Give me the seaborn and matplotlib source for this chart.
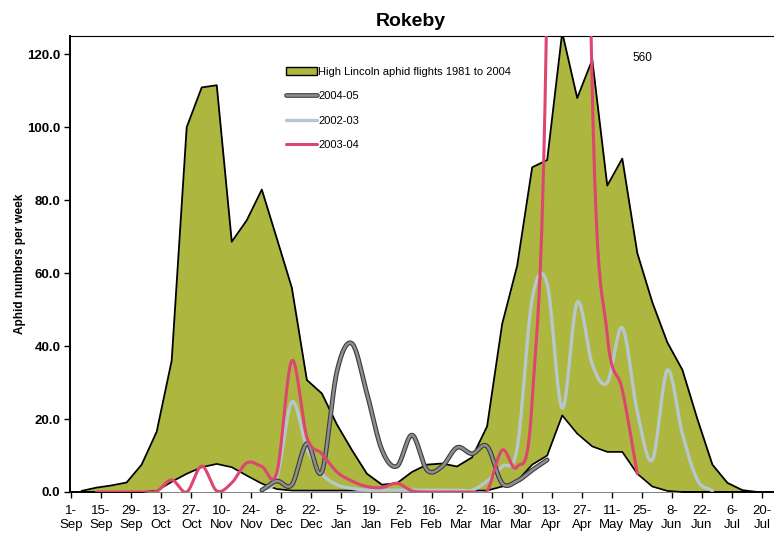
import numpy as np
import pandas as pd
import matplotlib
matplotlib.use("Agg")
import matplotlib.pyplot as plt
import matplotlib.patheffects as pe
from matplotlib.patches import Patch
import seaborn as sns

# ---------------- data (weekly, week index k -> k+0.7 weeks after 1 Sep) ----------------
tick_labels = ['1-Sep', '15-Sep', '29-Sep', '13-Oct', '27-Oct', '10-Nov', '24-Nov', '8-Dec',
               '22-Dec', '5-Jan', '19-Jan', '2-Feb', '16-Feb', '2-Mar', '16-Mar', '30-Mar',
               '13-Apr', '27-Apr', '11-May', '25-May', '8-Jun', '22-Jun', '6-Jul', '20-Jul']
week_offset = 0.7

high_lincoln = [0.3, 1.2, 1.8, 2.6, 7.5, 16.5, 36, 100, 110.9, 111.5, 68.6, 74.5, 82.9, 69.5,
                56, 30.7, 27, 18.5, 11.5, 5, 2, 2.4, 5.5, 7.5, 7.8, 7, 9.5, 18, 46, 62,
                89, 91, 126, 108, 118.5, 84, 91.4, 65.5, 52, 41, 33.5, 20, 7.5, 2.5, 0.5, 0]
low_lincoln = [0, 0, 0, 0, 0, 0.3, 2.8, 5, 6.8, 7.7, 6.8, 4.5, 2.3, 0.8, 0.4, 0.4, 0.4, 0.4,
               0.4, 0.4, 0.4, 0.4, 0.4, 0.4, 0.4, 0.4, 0.4, 0.4, 1.5, 3, 7.5, 10, 21, 16,
               12.5, 11, 11, 5, 1.5, 0.3, 0, 0, 0, 0, 0, 0]

start_2004_05 = 12
s2004_05 = [0.5, 3, 2, 13.3, 5.6, 33, 40.7, 27, 11.5, 7.1, 15.6, 6, 7, 12.2, 10.5, 12.5,
            2.4, 3, 6, 8.8]
start_2002_03 = 12
s2002_03 = [0.5, 4, 24.7, 12, 5, 2, 1, 0.5, 0.5, 0.5, 0.5, 0.5, 0.5, 0.5, 0.5, 3, 7, 12,
            53, 57, 23, 52, 35, 30, 45, 22, 8.8, 33.4, 16, 3.3, 0.3]
start_2003_04 = 1
s2003_04 = [0, 0, 0, 0, 0.2, 3.3, 0, 7.1, 0.3, 2.5, 8, 7, 5.3, 36, 15, 10.5, 5.5, 3, 1.5,
            1.2, 2.4, 0.3, 0, 0, 0, 0, 0.3, 11.5, 6.9, 25, 140, 560, 400, 110, 43, 28, 5]

peak_label = "560"
peak_label_pos = (37.4, 119)


def weeks(start, n):
    return np.arange(start, start + n) + week_offset


def smooth(xs, ys, n=20):
    """Catmull-Rom smoothing (like Excel's smoothed line)."""
    xs = np.asarray(xs, float)
    ys = np.asarray(ys, float)
    m = np.empty_like(ys)
    m[1:-1] = (ys[2:] - ys[:-2]) / 2.0
    m[0] = ys[1] - ys[0]
    m[-1] = ys[-1] - ys[-2]
    out_x, out_y = [], []
    t = np.linspace(0, 1, n, endpoint=False)
    h00 = 2 * t**3 - 3 * t**2 + 1
    h10 = t**3 - 2 * t**2 + t
    h01 = -2 * t**3 + 3 * t**2
    h11 = t**3 - t**2
    for i in range(len(xs) - 1):
        dx = xs[i + 1] - xs[i]
        out_x.append(xs[i] + t * dx)
        out_y.append(h00 * ys[i] + h10 * m[i] + h01 * ys[i + 1] + h11 * m[i + 1])
    out_x.append([xs[-1]])
    out_y.append([ys[-1]])
    return np.concatenate(out_x), np.concatenate(out_y)


# ---------------- style ----------------
sns.set_theme(style="white")
plt.rcParams['font.family'] = ['Liberation Sans', 'DejaVu Sans']
plt.rcParams.update({'text.color': 'black', 'axes.labelcolor': 'black',
                     'xtick.color': 'black', 'ytick.color': 'black'})

green = '#adb63e'
pink = '#dc4670'
gray = '#8e8e8e'
lightblue = '#b6c7cd'

fig = plt.figure(figsize=(7.74, 5.35), dpi=100)
ax = fig.add_axes([70 / 774, 1 - 492 / 535, 704 / 774, 456 / 535])

# High Lincoln envelope (straight-line area)
xh = weeks(0, len(high_lincoln))
ax.fill_between(xh, 0, high_lincoln, color=green, lw=0, zorder=1)
sns.lineplot(x=xh, y=high_lincoln, ax=ax, color='black', lw=1.3, sort=False,
             estimator=None, zorder=2)
# low envelope, white
ax.fill_between(xh, 0, low_lincoln, color='white', lw=0, zorder=3)
sns.lineplot(x=xh, y=low_lincoln, ax=ax, color='black', lw=1.2, sort=False,
             estimator=None, zorder=4)

# seasons
x02, y02 = smooth(weeks(start_2002_03, len(s2002_03)), s2002_03)
sns.lineplot(x=x02, y=y02, ax=ax, color=lightblue, lw=2.4, sort=False, estimator=None,
             zorder=5, label='2002-03')
l02 = ax.lines[-1]

x04, y04 = smooth(weeks(start_2004_05, len(s2004_05)), s2004_05)
sns.lineplot(x=x04, y=y04, ax=ax, color=gray, lw=1.8, sort=False, estimator=None,
             zorder=6, label='2004-05')
l04 = ax.lines[-1]
l04.set_path_effects([pe.Stroke(linewidth=3.4, foreground='#3c3c3c'), pe.Normal()])

x03, y03 = smooth(weeks(start_2003_04, len(s2003_04)), s2003_04)
sns.lineplot(x=x03, y=y03, ax=ax, color=pink, lw=2.2, sort=False, estimator=None,
             zorder=7, label='2003-04')
l03 = ax.lines[-1]

ax.text(peak_label_pos[0], peak_label_pos[1], peak_label, fontsize=8.5, ha='left', va='center')

# ---------------- axes ----------------
ax.set_xlim(-0.07, 46.8)
ax.set_ylim(0, 125)
tick_pos = np.arange(0, 2 * len(tick_labels), 2)
ax.set_xticks(tick_pos)
ax.set_xticklabels([t.replace('-', '-\n') for t in tick_labels], fontsize=9.5,
                   linespacing=1.25)
yt = np.arange(0, 121, 20)
ax.set_yticks(yt)
ax.set_yticklabels([f"{v:.1f}" for v in yt], fontsize=9.5, fontweight='bold')
ax.tick_params(axis='both', which='major', direction='out', length=4, width=1,
               color='black', bottom=True, left=True, pad=3)
ax.tick_params(axis='x', pad=5)

for side in ['left', 'bottom']:
    ax.spines[side].set_color('black')
    ax.spines[side].set_linewidth(1.4)
ax.spines['top'].set_color('black')
ax.spines['top'].set_linewidth(0.8)
ax.spines['top'].set_linestyle((0, (4, 1)))
ax.spines['right'].set_visible(False)

ax.set_title('Rokeby', fontsize=14, fontweight='bold', pad=7, x=0.484, color='black')
ax.set_ylabel('Aphid numbers per week', fontsize=8.5, fontweight='bold', labelpad=1)
ax.set_xlabel('')

handles = [Patch(facecolor=green, edgecolor='black', lw=1.0), l04, l02, l03]
labels = ['High Lincoln aphid flights 1981 to 2004', '2004-05', '2002-03', '2003-04']
ax.legend(handles, labels, loc='upper left', bbox_to_anchor=(0.30, 0.942), frameon=False,
          fontsize=8, labelspacing=1.3, handlelength=2.8, handleheight=0.7,
          handletextpad=0.15, borderaxespad=0)

fig.savefig('out.png', dpi=100)
